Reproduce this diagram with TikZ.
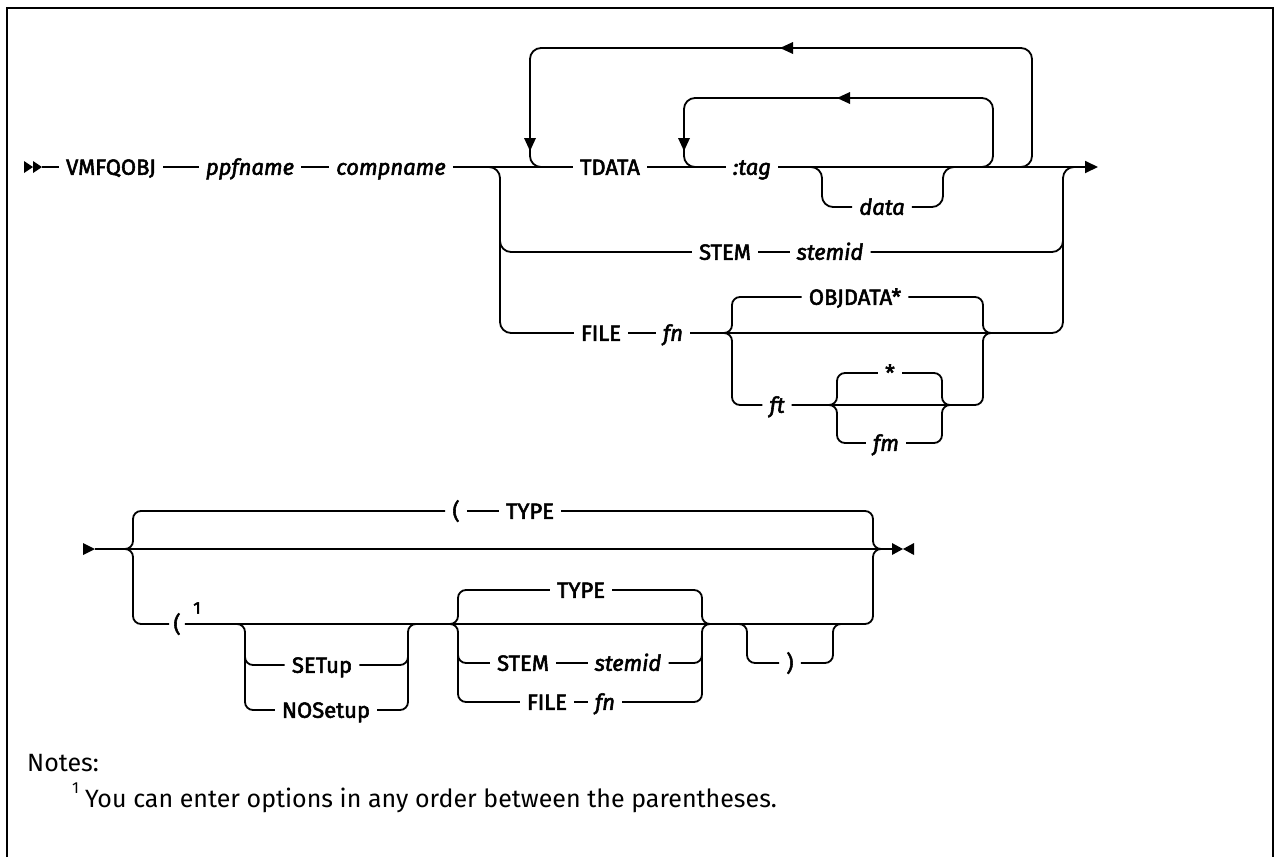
\documentclass[tikz,border=0pt]{standalone}
\usepackage{fontspec}
\usetikzlibrary{arrows.meta}
\setmainfont{Fira Sans}
\newfontfamily\dfont{Fira Sans}[FakeBold=2.5]
\newfontfamily\nfont{Fira Sans}
\begin{document}
\begin{tikzpicture}[x=1pt,y=-1pt,
  ln/.style={line width=1.8pt},
  rc/.style={ln, rounded corners=11pt},
  rb/.style={ln, rounded corners=8pt},
  kw/.style={inner sep=0pt, inner xsep=7pt, text height=15.5pt, text depth=0pt, anchor=center, font=\dfont\fontsize{22}{22}\selectfont},
  var/.style={kw, font=\dfont\fontsize{22}{22}\selectfont\itshape},
  tip/.style={fill=black}
]
\useasboundingbox (0,0) rectangle (1274,857);
% frame
\draw[line width=2.5pt] (7,857) -- (7,8) -- (1273,8) -- (1273,857);

% ---------------- row 1 ----------------
\coordinate (s1) at (42,167);
\fill[tip] (24,161) -- (33,167) -- (24,173) -- cycle;
\fill[tip] (33,161) -- (42,167) -- (33,173) -- cycle;
\node[kw]  (vmf)   at (111,167) {VMFQOBJ};
\node[var] (ppf)   at (250,167) {ppfname};
\node[var] (comp)  at (391,167) {compname};
\node[kw]  (tdata) at (610,167) {TDATA};
\node[var] (tag)   at (752,167) {:tag};
\node[var] (data)  at (882,207) {data};
\node[kw]  (stem1) at (725,252) {STEM};
\node[var] (stemid1) at (830,252) {stemid};
\node[kw]  (file1) at (601,333) {FILE};
\node[var] (fn1)   at (673,333) {fn};
\node[kw]  (objd)  at (855,297) {OBJDATA*};
\node[var] (ft)    at (777,405) {ft};
\node[kw]  (star)  at (890,373) {*};
\node[var] (fm)    at (886,443) {fm};
\coordinate (e1) at (1098,167);

\draw[ln] (s1) -- (vmf);
\draw[ln] (vmf) -- (ppf);
\draw[ln] (ppf) -- (comp);
\draw[ln] (comp) -- (tdata);
\draw[ln] (tdata) -- (tag);
\draw[ln, -{Triangle[length=13pt,width=12pt]}] (tag.east) -- (e1);

% outer loop
\draw[rc] (1010,167) -- (1032,167) -- (1032,48) -- (530,48) -- (530,167) -- (552,167);
\fill[tip] (780,48) -- (793,42) -- (793,54) -- cycle;
\fill[tip] (530,151) -- (524,138) -- (536,138) -- cycle;
% inner loop
\draw[rc] (975,167) -- (993,167) -- (993,98) -- (684,98) -- (684,167) -- (702,167);
\fill[tip] (837,98) -- (850,92) -- (850,104) -- cycle;
\fill[tip] (684,151) -- (678,138) -- (690,138) -- cycle;
% data
\draw[rc] (810,167) -- (822,167) -- (822,207) -- (data.west);
\draw[rc] (data.east) -- (943,207) -- (943,167) -- (955,167);

% main choice
\draw[rc] (488,167) -- (500,167) -- (500,333) -- (file1.west);
\draw[rc] (500,240) -- (500,252) -- (stem1.west);
\draw[ln] (stem1) -- (stemid1);
\draw[rc] (stemid1.east) -- (1063,252) -- (1063,240);
\draw[ln] (file1) -- (fn1);
\draw[rc] (fn1.east) -- (1063,333) -- (1063,167) -- (1075,167);

% OBJDATA brace
\draw[rb] (720,333) -- (732,333) -- (732,297) -- (objd.west);
\draw[rb] (720,333) -- (732,333) -- (732,405) -- (ft.west);
\draw[rb] (objd.east) -- (983,297) -- (983,333) -- (995,333);
\draw[rb] (ft.east) -- (983,405) -- (983,333) -- (995,333);
% nested * / fm
\draw[rb] (825,405) -- (837,405) -- (837,373) -- (star.west);
\draw[rb] (825,405) -- (837,405) -- (837,443) -- (fm.west);
\draw[rb] (star.east) -- (942,373) -- (942,405) -- (954,405);
\draw[rb] (fm.east) -- (942,443) -- (942,405) -- (954,405);

% ---------------- row 2 ----------------
\coordinate (s2) at (95,549);
\fill[tip] (83,543) -- (95,549) -- (83,555) -- cycle;
\node[kw] (lp1)   at (456,511) {(};
\node[kw] (type1) at (530,511) {TYPE};
\node[kw, inner xsep=4pt] (lp2) at (177,624) {(};
\node[inner sep=0pt, font=\dfont\fontsize{17}{17}\selectfont] (sup) at (197,608) {1};
\node[kw] (setup)   at (322,665) {SETup};
\node[kw] (nosetup) at (326,710) {NOSetup};
\node[kw] (type2)   at (581,590) {TYPE};
\node[kw] (stem2)   at (523,663) {STEM};
\node[var] (stemid2) at (628,663) {stemid};
\node[kw] (file2)   at (547,702) {FILE};
\node[var] (fn2)    at (605,702) {fn};
\node[kw] (rp)      at (790,663) {)};
\coordinate (e2) at (892,549);

\draw[ln] (s2) -- (e2);
\fill[tip] (892,543) -- (903,549) -- (892,555) -- cycle;
\fill[tip] (914,543) -- (903,549) -- (914,555) -- cycle;
% left brace
\draw[rb] (121,549) -- (133,549) -- (133,511) -- (lp1.west);
\draw[rb] (121,549) -- (133,549) -- (133,624) -- (lp2.west);
\draw[ln] (lp1) -- (type1);
\draw[rb] (type1.east) -- (873,511) -- (873,549) -- (885,549);
\draw[rb] (lp2.east) -- (873,624) -- (873,549) -- (885,549);
% SETup / NOSetup
\draw[rb] (233,624) -- (245,624) -- (245,710) -- (nosetup.west);
\draw[rb] (245,653) -- (245,665) -- (setup.west);
\draw[rb] (setup.east) -- (408,665) -- (408,653);
\draw[rb] (nosetup.east) -- (408,710) -- (408,624) -- (420,624);
% TYPE / STEM / FILE
\draw[rb] (446,624) -- (458,624) -- (458,590) -- (type2.west);
\draw[rb] (446,624) -- (458,624) -- (458,702) -- (file2.west);
\draw[rb] (458,651) -- (458,663) -- (stem2.west);
\draw[ln] (stem2) -- (stemid2);
\draw[ln] (file2) -- (fn2);
\draw[rb] (type2.east) -- (702,590) -- (702,624) -- (714,624);
\draw[rb] (stemid2.east) -- (702,663) -- (702,651);
\draw[rb] (fn2.east) -- (702,702) -- (702,624) -- (714,624);
% optional )
\draw[rb] (735,624) -- (747,624) -- (747,663) -- (rp.west);
\draw[rb] (rp.east) -- (833,663) -- (833,624) -- (845,624);

% ---------------- notes ----------------
\node[anchor=base west, inner sep=0pt, font=\nfont\fontsize{25}{25}\selectfont] (notes) at (27,771) {Notes:};
\node[anchor=base west, inner sep=0pt, font=\nfont\fontsize{16}{16}\selectfont] (n1) at (72,793) {1};
\node[anchor=base west, inner sep=0pt, font=\nfont\fontsize{25}{25}\selectfont] (note) at (85,807) {You can enter options in any order between the parentheses.};
\end{tikzpicture}
\end{document}
